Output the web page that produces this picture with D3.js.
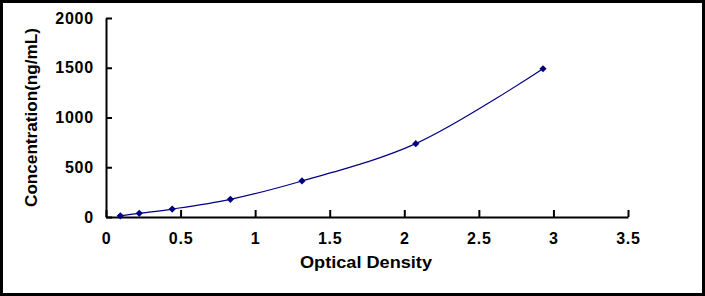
<!DOCTYPE html>
<html>
<head>
<meta charset="utf-8">
<script src="https://cdn.jsdelivr.net/npm/d3@7"></script>
<style>
  body { margin: 0; background: #fff; }
  svg { display: block; }
</style>
</head>
<body>
<div id="chart"></div>
<script>
// standard curve readings
const opticalDensity = [0.096, 0.223, 0.444, 0.834, 1.314, 2.077, 2.930];
const concentration = [12, 37, 80, 178, 362, 737, 1490];
const xTicks = [0, 0.5, 1, 1.5, 2, 2.5, 3, 3.5];
const yTicks = [0, 500, 1000, 1500, 2000];

const W = 705, H = 296;
const navy = "#000080";
const font = "'Liberation Sans', Arial, sans-serif";

var svg = d3.select("#chart")
  .append("svg")
    .attr("width", W)
    .attr("height", H);

svg.append("rect")
  .attr("width", W).attr("height", H)
  .attr("fill", "#fff");

// frame
svg.append("rect")
  .attr("x", 1.5).attr("y", 1.5)
  .attr("width", W - 3).attr("height", H - 3)
  .attr("fill", "none")
  .attr("stroke", "#000")
  .attr("stroke-width", 3);

var x = d3.scaleLinear().domain([0, 3.5]).range([106, 628]);
var y = d3.scaleLinear().domain([0, 2000]).range([217, 18]);

// axes, ticks point inward
var xAxis = svg.append("g")
  .attr("transform", "translate(0," + y(0) + ")")
  .call(d3.axisBottom(x)
    .tickValues(xTicks)
    .tickFormat(d3.format("~g"))
    .tickSizeInner(-7)
    .tickSizeOuter(0)
    .tickPadding(16));

var yAxis = svg.append("g")
  .attr("transform", "translate(" + x(0) + ",0)")
  .call(d3.axisLeft(y)
    .tickValues(yTicks)
    .tickFormat(d3.format("d"))
    .tickSizeInner(-6)
    .tickSizeOuter(0)
    .tickPadding(12));

[xAxis, yAxis].forEach(function(g) {
  g.select(".domain").attr("stroke", "#000").attr("stroke-width", 2);
  g.selectAll(".tick line").attr("stroke", "#000").attr("stroke-width", 2);
  g.selectAll(".tick text")
    .attr("fill", "#000")
    .style("font-family", font)
    .style("font-weight", "bold")
    .style("font-size", "16px")
    .style("letter-spacing", "0.8px");
});

// smooth curve through the points
var pts = opticalDensity.map(function(d, i) { return [d, concentration[i]]; });

var line = d3.line()
  .x(function(d) { return x(d[0]); })
  .y(function(d) { return y(d[1]); })
  .curve(d3.curveCatmullRom);

svg.append("path")
  .datum(pts)
  .attr("d", line)
  .attr("fill", "none")
  .attr("stroke", navy)
  .attr("stroke-width", 1.2);

// diamond markers
svg.selectAll(".pt")
  .data(pts)
  .enter()
  .append("path")
    .attr("class", "pt")
    .attr("d", d3.symbol().type(d3.symbolSquare).size(26))
    .attr("transform", function(d) {
      return "translate(" + x(d[0]) + "," + y(d[1]) + ")rotate(45)";
    })
    .attr("fill", navy);

// axis titles
svg.append("text")
  .attr("x", 366)
  .attr("y", 268)
  .attr("text-anchor", "middle")
  .attr("textLength", 132)
  .attr("lengthAdjust", "spacingAndGlyphs")
  .style("font-family", font)
  .style("font-weight", "bold")
  .style("font-size", "16px")
  .text("Optical Density");

svg.append("text")
  .attr("transform", "translate(37,117.5)rotate(-90)")
  .attr("text-anchor", "middle")
  .attr("textLength", 179)
  .attr("lengthAdjust", "spacingAndGlyphs")
  .style("font-family", font)
  .style("font-weight", "bold")
  .style("font-size", "17px")
  .text("Concentration(ng/mL)");
</script>
</body>
</html>
